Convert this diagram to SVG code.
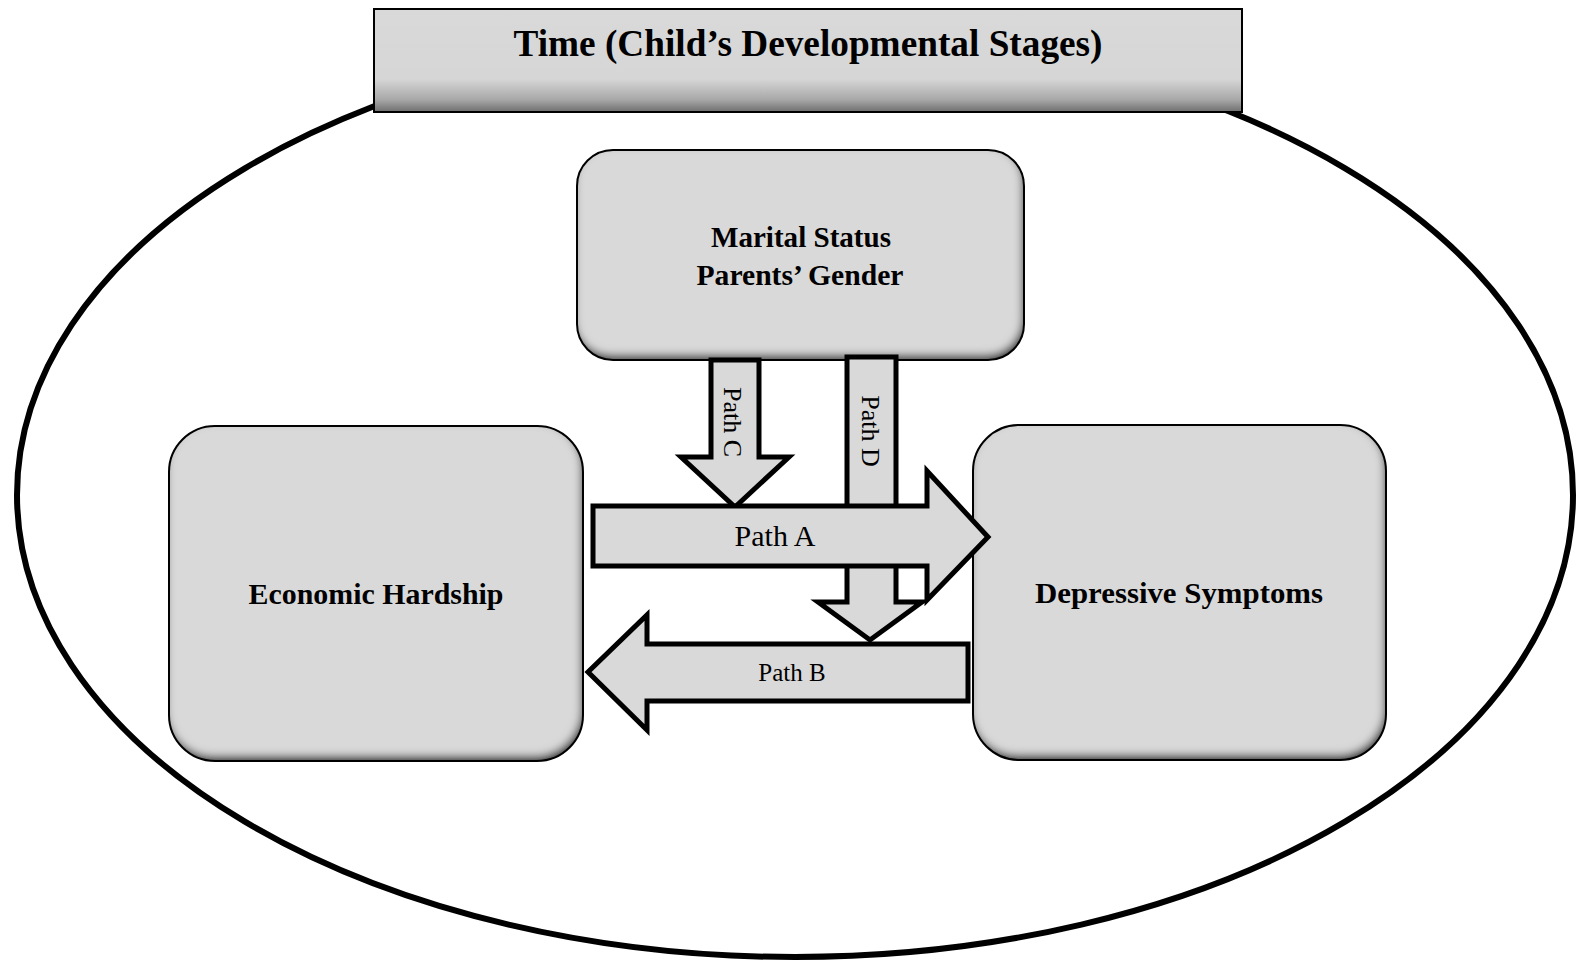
<svg xmlns="http://www.w3.org/2000/svg" width="1577" height="961" viewBox="0 0 1577 961">
  <defs>
    <style>
      .frame { fill: none; stroke: #000; stroke-width: 6; }
      .box-fill { fill: #d9d9d9; filter: url(#inset); }
      .box-edge { fill: none; stroke: #000; stroke-width: 2; }
      .label { font-family: "Liberation Serif", "Times New Roman", serif; font-weight: bold; font-size: 30px; fill: #000; text-anchor: middle; }
      .title { font-family: "Liberation Serif", "Times New Roman", serif; font-weight: bold; font-size: 37px; fill: #000; text-anchor: middle; }
      .arrow { fill: #d9d9d9; stroke: #000; stroke-width: 5; stroke-linejoin: miter; stroke-miterlimit: 10; }
      .path-label { font-family: "Liberation Serif", "Times New Roman", serif; fill: #000; text-anchor: middle; }
    </style>
    <!-- soft inner shadow along the lower and right edges of the rounded boxes -->
    <filter id="inset" x="-5%" y="-5%" width="110%" height="110%">
      <feFlood flood-color="#000" flood-opacity="1" result="ink"/>
      <feComposite in="ink" in2="SourceAlpha" operator="out" result="outside"/>
      <feGaussianBlur in="outside" stdDeviation="4" result="soft"/>
      <feOffset in="soft" dx="-2" dy="-5" result="moved"/>
      <feComposite in="moved" in2="SourceAlpha" operator="in" result="shade"/>
      <feMerge>
        <feMergeNode in="SourceGraphic"/>
        <feMergeNode in="shade"/>
      </feMerge>
    </filter>
    <linearGradient id="titleShade" x1="0" y1="0" x2="0" y2="1">
      <stop offset="0" stop-color="#d9d9d9"/>
      <stop offset="0.68" stop-color="#d6d6d6"/>
      <stop offset="0.88" stop-color="#a8a8a8"/>
      <stop offset="1" stop-color="#6e6e6e"/>
    </linearGradient>
  </defs>

  <rect width="1577" height="961" fill="#fff"/>

  <!-- outer time frame -->
  <ellipse id="time-frame" class="frame" cx="795" cy="495" rx="778" ry="462"/>

  <g id="time">
    <rect x="374" y="9" width="868" height="103" fill="url(#titleShade)" stroke="#000" stroke-width="2"/>
    <text class="title" x="808" y="56" textLength="589" lengthAdjust="spacingAndGlyphs">Time (Child’s Developmental Stages)</text>
  </g>

  <g id="marital-status">
    <rect class="box-fill" x="577" y="150" width="447" height="210" rx="36"/>
    <rect class="box-edge" x="577" y="150" width="447" height="210" rx="36"/>
    <text class="label" x="801" y="247" textLength="180" lengthAdjust="spacingAndGlyphs">Marital Status</text>
    <text class="label" x="800" y="285" textLength="207" lengthAdjust="spacingAndGlyphs">Parents’ Gender</text>
  </g>

  <g id="economic-hardship">
    <rect class="box-fill" x="169" y="426" width="414" height="335" rx="46"/>
    <rect class="box-edge" x="169" y="426" width="414" height="335" rx="46"/>
    <text class="label" x="376" y="604" textLength="255" lengthAdjust="spacingAndGlyphs">Economic Hardship</text>
  </g>

  <g id="depressive-symptoms">
    <rect class="box-fill" x="973" y="425" width="413" height="335" rx="46"/>
    <rect class="box-edge" x="973" y="425" width="413" height="335" rx="46"/>
    <text class="label" x="1179" y="603" textLength="288" lengthAdjust="spacingAndGlyphs">Depressive Symptoms</text>
  </g>

  <g id="connectors">
    <!-- Path D: moderator arrow onto Path B -->
    <g id="path-d">
      <polygon class="arrow" points="847,357 896,357 896,602 922,602 870,640 818,602 847,602"/>
      <text class="path-label" font-size="26" transform="translate(862,431) rotate(90)">Path D</text>
    </g>
    <!-- Path C: moderator arrow onto Path A -->
    <g id="path-c">
      <polygon class="arrow" points="711,360 759,360 759,457 789,457 735,507 681,457 711,457"/>
      <text class="path-label" font-size="26" transform="translate(724,422) rotate(90)">Path C</text>
    </g>
    <!-- Path A: hardship to symptoms -->
    <g id="path-a">
      <polygon class="arrow" points="593,506 927,506 927,471 988,537 927,600 927,566 593,566"/>
      <text class="path-label" font-size="30" x="775" y="546">Path A</text>
    </g>
    <!-- Path B: symptoms back to hardship -->
    <g id="path-b">
      <polygon class="arrow" points="968,644 647,644 647,615 588,672 647,730 647,701 968,701"/>
      <text class="path-label" font-size="25" x="792" y="681">Path B</text>
    </g>
  </g>
</svg>
